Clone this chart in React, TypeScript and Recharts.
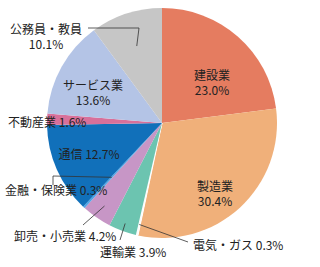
import { PieChart, Pie, Cell } from 'recharts'

const industries = ['建設業', '製造業', '電気・ガス', '運輸業', '卸売・小売業', '金融・保険業', '通信', '不動産業', 'サービス業', '公務員・教員']
const shares = [23.0, 30.4, 0.3, 3.9, 4.2, 0.3, 12.7, 1.6, 13.6, 10.1]
const colors = ['#E57C60', '#F0B07A', '#FBFBFB', '#6CC4B0', '#C796C6', '#4EA4E6', '#1170BA', '#D8709A', '#B4C4E6', '#C6C6C6']

const data = industries.map((name, i) => ({ name, value: shares[i] }))

const RAD = Math.PI / 180
const polar = (cx: number, cy: number, r: number, a: number) => ({
  x: cx + r * Math.cos(-a * RAD),
  y: cy + r * Math.sin(-a * RAD),
})

// label placement, offsets are relative to the pie centre
type Place = {
  two?: boolean
  dx: number
  dy: number
  anchor?: 'start' | 'middle' | 'end'
  from?: number
  path?: [number, number][]
}
const places: Place[] = [
  { two: true, dx: 50, dy: -41 },
  { two: true, dx: 53, dy: 70 },
  { dx: 31, dy: 123, anchor: 'start', from: 104, path: [[26, 119]] },
  { dx: -62, dy: 130, anchor: 'start', from: 107, path: [[-42, 117]] },
  { dx: -148, dy: 114, anchor: 'start', from: 101, path: [[-79, 102]] },
  { dx: -157, dy: 68, anchor: 'start', from: 74, path: [[-109, 53], [-109, 62]] },
  { dx: -73, dy: 32 },
  { dx: -154, dy: 0, anchor: 'start' },
  { two: true, dx: -69, dy: -31 },
  { two: true, dx: -116, dy: -87, from: 81, path: [[-23, -95], [-74, -95]] },
]

const renderLabel = (p: any) => {
  const { cx, cy, midAngle, index, name, value } = p
  const pl = places[index]
  const x = cx + pl.dx
  const y = cy + pl.dy
  const pct = `${value.toFixed(1)}%`
  let line = null
  if (pl.from && pl.path) {
    const s = polar(cx, cy, pl.from, midAngle)
    const d = `M${s.x},${s.y}` + pl.path.map(([px, py]) => `L${cx + px},${cy + py}`).join('')
    line = <path d={d} stroke="#333" strokeWidth={0.8} fill="none" />
  }
  return (
    <g key={`lab-${index}`}>
      {line}
      {pl.two ? (
        <text x={x} y={y} textAnchor="middle" fill="#222" fontSize={12}>
          <tspan x={x} dy="-0.2em">{name}</tspan>
          <tspan x={x} dy="1.3em">{pct}</tspan>
        </text>
      ) : (
        <text x={x} y={y} dy="0.35em" textAnchor={pl.anchor ?? 'middle'} fill="#222" fontSize={12}>
          {name} {pct}
        </text>
      )}
    </g>
  )
}

export default function App() {
  return (
    <div style={{ position: 'absolute', left: 0, top: 0, width: 320, height: 267, background: '#fff', fontFamily: '"Noto Sans CJK JP", sans-serif' }}>
      <PieChart width={320} height={267} margin={{ top: 0, right: 0, bottom: 0, left: 0 }}>
        <Pie
          data={data}
          dataKey="value"
          nameKey="name"
          cx={162}
          cy={123}
          outerRadius={115}
          startAngle={90}
          endAngle={-270}
          stroke="none"
          label={renderLabel}
          labelLine={false}
          isAnimationActive={false}
        >
          {data.map((d, i) => (
            <Cell key={d.name} fill={colors[i]} stroke={i === 2 ? '#ffffff' : 'none'} />
          ))}
        </Pie>
      </PieChart>
    </div>
  )
}
